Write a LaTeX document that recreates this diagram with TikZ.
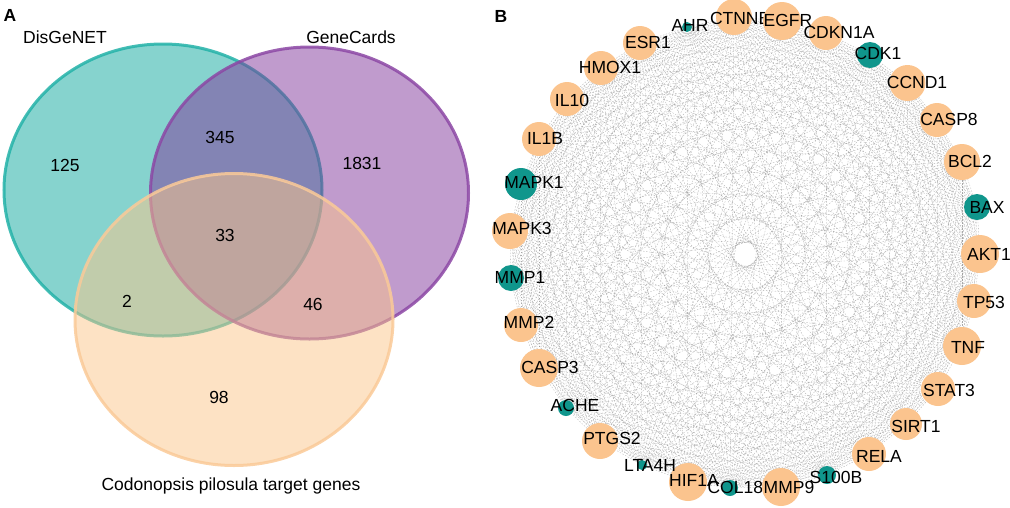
\documentclass[tikz,border=0pt]{standalone}
\usepackage{fontspec}
\setmainfont{Liberation Sans}
\pgfdeclarelayer{edgelayer}
\pgfsetlayers{edgelayer,main}
\definecolor{vtealf}{RGB}{14,168,158}
\definecolor{vteals}{RGB}{35,178,168}
\definecolor{vpurf}{RGB}{129,55,155}
\definecolor{vpurs}{RGB}{140,72,165}
\definecolor{vorf}{RGB}{251,197,137}
\definecolor{vors}{RGB}{250,202,152}
\definecolor{tealn}{RGB}{16,150,140}
\definecolor{orangen}{RGB}{251,196,142}
\definecolor{edgegray}{RGB}{150,150,150}
\tikzset{
  vtext/.style={font=\fontsize{17.5}{20}\selectfont, inner sep=0pt},
  panel/.style={font=\bfseries\fontsize{17.5}{20}\selectfont, inner sep=0pt},
  vennteal/.style={fill=vtealf, fill opacity=0.5, draw=vteals, draw opacity=0.85, line width=3pt},
  vennpur/.style={fill=vpurf, fill opacity=0.5, draw=vpurs, draw opacity=0.85, line width=3pt},
  vennor/.style={fill=vorf, fill opacity=0.5, draw=vors, draw opacity=0.85, line width=3pt},
  genenode/.style={circle, draw=none, inner sep=0pt},
  genelabel/.style={font=\fontsize{17.5}{20}\selectfont, inner sep=0pt, text=black},
  edgeline/.style={draw=edgegray, draw opacity=0.8, line width=0.3pt, dash pattern=on 1.5pt off 1.5pt},
}
\newcommand\drawgene[8]{%
  \node[genenode, fill=#5, minimum size=#4pt] (#1) at (#2,#3) {};
  \node[genelabel] (#1-lab) at (#7,#8) {#6};}
\begin{document}
\begin{tikzpicture}[x=1pt,y=-1pt]
\useasboundingbox (0,0) rectangle (1010,507);
% ---------------- Panel A: Venn diagram ----------------
\node[panel] (labA) at (10,15) {A};
\draw[vennteal] (163,190) ellipse [x radius=159pt, y radius=146pt];
\draw[vennpur] (309.5,193) ellipse [x radius=159pt, y radius=146pt];
\draw[vennor] (234,319.5) ellipse [x radius=159pt, y radius=146pt];
\node[vtext] (tDis) at (65,37) {DisGeNET};
\node[vtext] (tGene) at (351,37) {GeneCards};
\node[vtext, anchor=base] (tCod) at (231,490) {Codonopsis pilosula target genes};
\node[vtext] (n125) at (65,165) {125};
\node[vtext] (n345) at (220,137) {345};
\node[vtext] (n1831) at (362,163) {1831};
\node[vtext] (n33) at (225,235) {33};
\node[vtext] (n2) at (127,301) {2};
\node[vtext] (n46) at (313,304) {46};
\node[vtext] (n98) at (219,397) {98};
% ---------------- Panel B: network ----------------
\node[panel] (labB) at (501,16) {B};
\drawgene{AHR}{687}{27}{10}{tealn}{AHR}{690}{25}
\drawgene{CTNNB1}{734}{17}{36}{orangen}{CTNNB1}{745}{18}
\drawgene{CDKN1A}{826}{33}{34}{orangen}{CDKN1A}{839}{32}
\drawgene{EGFR}{782}{21}{38}{orangen}{EGFR}{788}{20}
\drawgene{CDK1}{870}{55}{26}{tealn}{CDK1}{878}{53}
\drawgene{CCND1}{907.5}{83}{36}{orangen}{CCND1}{917}{82}
\drawgene{CASP8}{937}{120}{34}{orangen}{CASP8}{949}{119}
\drawgene{BCL2}{962}{162}{36}{orangen}{BCL2}{970}{161}
\drawgene{BAX}{977}{207}{26}{tealn}{BAX}{987}{207}
\drawgene{AKT1}{980}{254}{38}{orangen}{AKT1}{989}{254}
\drawgene{TP53}{974}{301}{34}{orangen}{TP53}{984}{302}
\drawgene{TNF}{962}{346}{38}{orangen}{TNF}{968}{347}
\drawgene{STAT3}{938}{389}{34}{orangen}{STAT3}{949}{390}
\drawgene{SIRT1}{906}{424}{32}{orangen}{SIRT1}{916}{426}
\drawgene{RELA}{869}{454}{34}{orangen}{RELA}{879}{456}
\drawgene{HIF1A}{688}{482}{38}{orangen}{HIF1A}{694}{480}
\drawgene{COL18A1}{730}{488}{16}{tealn}{COL18A1}{746}{487}
\drawgene{MMP9}{781}{487}{38}{orangen}{MMP9}{789}{487}
\drawgene{S100B}{827}{475}{18}{tealn}{S100B}{836}{477}
\drawgene{LTA4H}{642}{465}{10}{tealn}{LTA4H}{650}{465}
\drawgene{PTGS2}{600}{441}{36}{orangen}{PTGS2}{612}{438}
\drawgene{ACHE}{566}{408}{16}{tealn}{ACHE}{575}{405}
\drawgene{CASP3}{539}{368}{38}{orangen}{CASP3}{550}{367}
\drawgene{MMP2}{521}{325}{34}{orangen}{MMP2}{529}{322}
\drawgene{MMP1}{511}{278}{26}{tealn}{MMP1}{520}{277}
\drawgene{MAPK3}{510}{231}{36}{orangen}{MAPK3}{522}{228}
\drawgene{MAPK1}{521}{184}{32}{tealn}{MAPK1}{534}{182}
\drawgene{IL1B}{539}{139}{34}{orangen}{IL1B}{545}{138}
\drawgene{IL10}{567}{99}{34}{orangen}{IL10}{572}{100}
\drawgene{HMOX1}{601}{68}{34}{orangen}{HMOX1}{610}{67}
\drawgene{ESR1}{640}{43}{34}{orangen}{ESR1}{648}{42}
\begin{pgfonlayer}{edgelayer}
\foreach \a [count=\i] in {AHR,CTNNB1,EGFR,CDKN1A,CDK1,CCND1,CASP8,BCL2,BAX,AKT1,TP53,TNF,STAT3,SIRT1,RELA,S100B,MMP9,COL18A1,HIF1A,LTA4H,PTGS2,ACHE,CASP3,MMP2,MMP1,MAPK3,MAPK1,IL1B,IL10,HMOX1,ESR1}{
  \foreach \b [count=\j] in {AHR,CTNNB1,EGFR,CDKN1A,CDK1,CCND1,CASP8,BCL2,BAX,AKT1,TP53,TNF,STAT3,SIRT1,RELA,S100B,MMP9,COL18A1,HIF1A,LTA4H,PTGS2,ACHE,CASP3,MMP2,MMP1,MAPK3,MAPK1,IL1B,IL10,HMOX1,ESR1}{
    \ifnum\j>\i \draw[edgeline] (\a.center) -- (\b.center); \fi
  }
}
\end{pgfonlayer}
\end{tikzpicture}
\end{document}
